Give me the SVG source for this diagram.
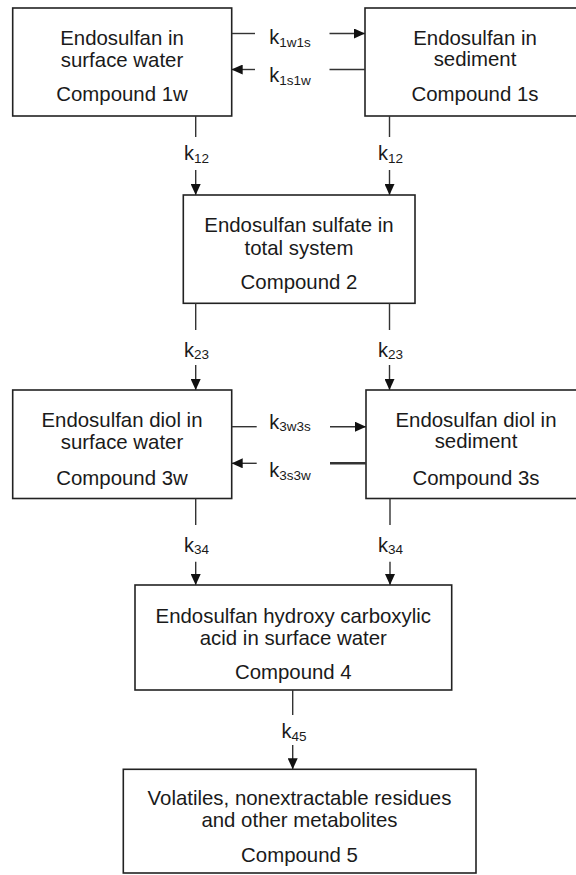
<svg xmlns="http://www.w3.org/2000/svg" width="576" height="875" viewBox="0 0 576 875">
<style>
.box{fill:#fff;stroke:#222;stroke-width:1.6}
.t{font-family:"Liberation Sans",Arial,sans-serif;font-size:20.4px;fill:#1a1a1a;text-anchor:middle}
.k{font-family:"Liberation Sans",Arial,sans-serif;font-size:20px;fill:#1a1a1a;text-anchor:middle}
.sub{font-size:13.5px}
.c{stroke:#333;stroke-width:1.4;fill:none}
.thick{stroke-width:2.6}
</style>
<defs>
<marker id="ah" viewBox="0 0 11 10" refX="11" refY="5" markerWidth="11" markerHeight="10" markerUnits="userSpaceOnUse" orient="auto">
<path d="M0,0 L11,5 L0,10 z" fill="#111"/>
</marker>
</defs>
<rect width="576" height="875" fill="#fff"/>
<g id="n1w">
<rect class="box" x="12.7" y="8" width="219" height="108"/>
<text class="t" x="122" y="44.5">Endosulfan in</text>
<text class="t" x="122" y="66.5">surface water</text>
<text class="t" x="122" y="101">Compound 1w</text>
</g>
<g id="n1s">
<rect class="box" x="365" y="8" width="225" height="108"/>
<text class="t" x="475" y="44.5">Endosulfan in</text>
<text class="t" x="475" y="65.5">sediment</text>
<text class="t" x="475" y="100.5">Compound 1s</text>
</g>
<g id="n2">
<rect class="box" x="183.3" y="195" width="231.7" height="108.3"/>
<text class="t" x="299" y="231.7">Endosulfan sulfate in</text>
<text class="t" x="299" y="254.5">total system</text>
<text class="t" x="299" y="288.5">Compound 2</text>
</g>
<g id="n3w">
<rect class="box" x="12.7" y="390" width="219" height="108.5"/>
<text class="t" x="122" y="426.7">Endosulfan diol in</text>
<text class="t" x="122" y="449">surface water</text>
<text class="t" x="122" y="485">Compound 3w</text>
</g>
<g id="n3s">
<rect class="box" x="366" y="390" width="225" height="108.5"/>
<text class="t" x="476" y="426.7">Endosulfan diol in</text>
<text class="t" x="476" y="448">sediment</text>
<text class="t" x="476" y="484.5">Compound 3s</text>
</g>
<g id="n4">
<rect class="box" x="135" y="585" width="316.7" height="105"/>
<text class="t" x="293.3" y="623.3">Endosulfan hydroxy carboxylic</text>
<text class="t" x="293.3" y="645">acid in surface water</text>
<text class="t" x="293.3" y="679.3">Compound 4</text>
</g>
<g id="n5">
<rect class="box" x="123.3" y="769.3" width="352.7" height="103.7"/>
<text class="t" x="299.5" y="805">Volatiles, nonextractable residues</text>
<text class="t" x="299.5" y="827.3">and other metabolites</text>
<text class="t" x="299.5" y="861.7">Compound 5</text>
</g>
<g id="connectors">
<line class="c" x1="231.7" y1="33.5" x2="255" y2="33.5"/>
<line class="c" x1="329.5" y1="33.5" x2="365" y2="33.5" marker-end="url(#ah)"/>
<text class="k" x="290" y="44">k<tspan class="sub" dy="2.5">1w1s</tspan></text>
<line class="c" x1="255" y1="69.5" x2="231.7" y2="69.5" marker-end="url(#ah)"/>
<line class="c" x1="329.5" y1="69.5" x2="365" y2="69.5"/>
<text class="k" x="290" y="82">k<tspan class="sub" dy="2.5">1s1w</tspan></text>

<line class="c" x1="195.7" y1="116" x2="195.7" y2="137"/>
<line class="c" x1="195.7" y1="170" x2="195.7" y2="195" marker-end="url(#ah)"/>
<text class="k" x="196.5" y="160">k<tspan class="sub" dy="2.5">12</tspan></text>
<line class="c" x1="389.5" y1="116" x2="389.5" y2="137"/>
<line class="c" x1="389.5" y1="170" x2="389.5" y2="195" marker-end="url(#ah)"/>
<text class="k" x="390.5" y="160">k<tspan class="sub" dy="2.5">12</tspan></text>

<line class="c" x1="195.7" y1="303.3" x2="195.7" y2="330"/>
<line class="c" x1="195.7" y1="365" x2="195.7" y2="390" marker-end="url(#ah)"/>
<text class="k" x="196.5" y="356.7">k<tspan class="sub" dy="2.5">23</tspan></text>
<line class="c" x1="389.5" y1="303.3" x2="389.5" y2="330"/>
<line class="c" x1="389.5" y1="365" x2="389.5" y2="390" marker-end="url(#ah)"/>
<text class="k" x="390.5" y="356.7">k<tspan class="sub" dy="2.5">23</tspan></text>

<line class="c" x1="231.7" y1="426.7" x2="256.7" y2="426.7"/>
<line class="c" x1="330" y1="426.7" x2="366" y2="426.7" marker-end="url(#ah)"/>
<text class="k" x="290" y="428.5">k<tspan class="sub" dy="2.5">3w3s</tspan></text>
<line class="c" x1="256.7" y1="463.3" x2="231.7" y2="463.3" marker-end="url(#ah)"/>
<line class="c thick" x1="330" y1="463.3" x2="366" y2="463.3"/>
<text class="k" x="290" y="477">k<tspan class="sub" dy="2.5">3s3w</tspan></text>

<line class="c" x1="195.7" y1="498.5" x2="195.7" y2="525"/>
<line class="c" x1="195.7" y1="561.7" x2="195.7" y2="585" marker-end="url(#ah)"/>
<text class="k" x="196.5" y="551.5">k<tspan class="sub" dy="2.5">34</tspan></text>
<line class="c" x1="390" y1="498.5" x2="390" y2="525"/>
<line class="c" x1="390" y1="561.7" x2="390" y2="585" marker-end="url(#ah)"/>
<text class="k" x="390.5" y="551.5">k<tspan class="sub" dy="2.5">34</tspan></text>

<line class="c" x1="292.7" y1="690" x2="292.7" y2="715"/>
<line class="c" x1="292.7" y1="745" x2="292.7" y2="769.3" marker-end="url(#ah)"/>
<text class="k" x="294" y="738">k<tspan class="sub" dy="2.5">45</tspan></text>
</g>
</svg>
